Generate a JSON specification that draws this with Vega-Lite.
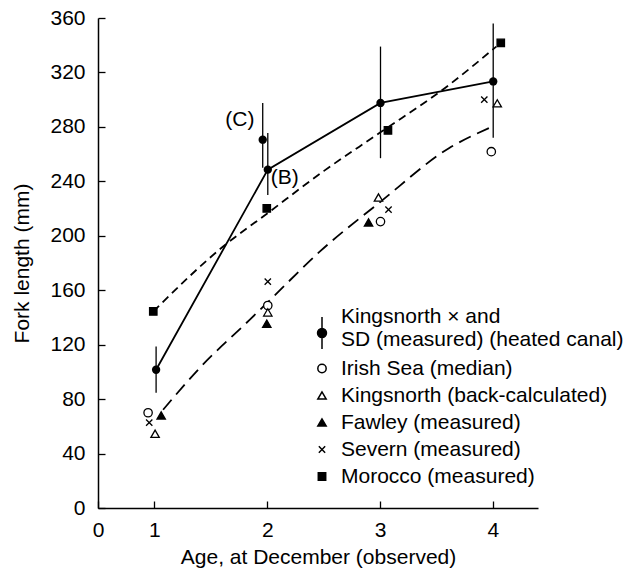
{
  "$schema": "https://vega.github.io/schema/vega-lite/v6.json",
  "width": 440,
  "height": 490,
  "autosize": {"type": "none"},
  "padding": {"left": 98, "top": 18, "right": 90, "bottom": 66},
  "background": "white",
  "config": {
    "font": "Liberation Sans",
    "view": {"stroke": null},
    "axis": {
      "grid": false,
      "domainColor": "black",
      "domainWidth": 1.5,
      "tickColor": "black",
      "tickWidth": 1.3,
      "tickSize": -7,
      "labelFont": "Liberation Sans",
      "labelFontSize": 21,
      "labelColor": "black",
      "titleFont": "Liberation Sans",
      "titleFontSize": 21,
      "titleFontWeight": "normal",
      "titleColor": "black",
      "labelFlush": false,
      "labelOverlap": false
    },
    "legend": {
      "labelFont": "Liberation Sans",
      "labelFontSize": 21,
      "labelColor": "black",
      "labelLimit": 500
    }
  },
  "datasets": {
    "pts": [
      {"series": "Irish Sea (median)", "age": 0.944, "length": 70.0},
      {"series": "Irish Sea (median)", "age": 2.005, "length": 148.8},
      {"series": "Irish Sea (median)", "age": 3.004, "length": 210.4},
      {"series": "Irish Sea (median)", "age": 3.986, "length": 261.8},
      {"series": "Kingsnorth (back-calculated)", "age": 1.006, "length": 54.6},
      {"series": "Kingsnorth (back-calculated)", "age": 2.005, "length": 143.7},
      {"series": "Kingsnorth (back-calculated)", "age": 2.986, "length": 228.1},
      {"series": "Kingsnorth (back-calculated)", "age": 4.039, "length": 297.3},
      {"series": "Fawley (measured)", "age": 1.06, "length": 68.0},
      {"series": "Fawley (measured)", "age": 1.996, "length": 135.4},
      {"series": "Fawley (measured)", "age": 2.898, "length": 209.8},
      {"series": "Severn (measured)", "age": 0.954, "length": 62.7},
      {"series": "Severn (measured)", "age": 2.005, "length": 166.3},
      {"series": "Severn (measured)", "age": 3.075, "length": 219.2},
      {"series": "Severn (measured)", "age": 3.924, "length": 300.0},
      {"series": "Morocco (measured)", "age": 0.99, "length": 144.4},
      {"series": "Morocco (measured)", "age": 1.996, "length": 220.1},
      {"series": "Morocco (measured)", "age": 3.07, "length": 277.4},
      {"series": "Morocco (measured)", "age": 4.07, "length": 341.7}
    ],
    "kings": [
      {"age": 1.015, "length": 101.6},
      {"age": 2.005, "length": 248.6},
      {"age": 3.004, "length": 297.6},
      {"age": 4.003, "length": 313.4},
      {"age": 1.96, "length": 270.6}
    ],
    "sd": [
      {"age": 1.015, "lo": 84.7, "hi": 118.7},
      {"age": 1.96, "lo": 250, "hi": 297.6},
      {"age": 2.005, "lo": 230, "hi": 275.5},
      {"age": 3.004, "lo": 257, "hi": 339},
      {"age": 4.003, "lo": 272, "hi": 356}
    ],
    "fits": [
      {"fit": "solid", "age": 1.015, "length": 101.6},
      {"fit": "solid", "age": 2.005, "length": 248.6},
      {"fit": "solid", "age": 3.004, "length": 297.6},
      {"fit": "solid", "age": 4.003, "length": 313.4},
      {"fit": "short", "age": 0.99, "length": 144.4},
      {"fit": "short", "age": 1.609, "length": 192.1},
      {"fit": "short", "age": 2.0, "length": 216.4},
      {"fit": "short", "age": 2.5, "length": 247.5},
      {"fit": "short", "age": 3.0, "length": 275.8},
      {"fit": "short", "age": 3.614, "length": 311},
      {"fit": "short", "age": 4.03, "length": 339},
      {"fit": "long", "age": 1.077, "length": 72.2},
      {"fit": "long", "age": 1.404, "length": 103.1},
      {"fit": "long", "age": 1.846, "length": 138.4},
      {"fit": "long", "age": 2.005, "length": 151.2},
      {"fit": "long", "age": 2.465, "length": 188.3},
      {"fit": "long", "age": 3.004, "length": 225},
      {"fit": "long", "age": 3.614, "length": 264.5},
      {"fit": "long", "age": 3.968, "length": 279.2}
    ],
    "notes": [
      {"label": "(C)", "age": 1.758, "length": 285.3},
      {"label": "(B)", "age": 2.156, "length": 242.5}
    ]
  },
  "encoding": {
    "x": {
      "field": "age",
      "type": "quantitative",
      "scale": {"domain": [0.5, 4.4], "zero": false, "nice": false},
      "axis": {
        "title": "Age, at December (observed)",
        "values": [0.5, 1, 2, 3, 4],
        "labelExpr": "datum.value == 0.5 ? '0' : datum.label",
        "labelPadding": 18,
        "titleY": 49,
        "titleBaseline": "middle"
      }
    },
    "y": {
      "field": "length",
      "type": "quantitative",
      "scale": {"domain": [0, 360], "zero": false, "nice": false},
      "axis": {
        "title": "Fork length (mm)",
        "values": [0, 40, 80, 120, 160, 200, 240, 280, 320, 360],
        "labelPadding": 20,
        "titleX": -76,
        "titleBaseline": "middle"
      }
    }
  },
  "layer": [
    {
      "data": {"name": "fits"},
      "transform": [{"filter": "datum.fit == 'solid'"}],
      "mark": {"type": "line", "color": "black", "strokeWidth": 1.8}
    },
    {
      "data": {"name": "fits"},
      "transform": [{"filter": "datum.fit != 'solid'"}],
      "mark": {"type": "line", "color": "black", "strokeWidth": 1.8, "interpolate": "monotone"},
      "encoding": {
        "strokeDash": {
          "field": "fit",
          "type": "nominal",
          "scale": {"domain": ["short", "long"], "range": [[8, 5], [13, 7]]},
          "legend": null
        }
      }
    },
    {
      "data": {"name": "sd"},
      "mark": {"type": "rule", "color": "black", "strokeWidth": 1.3},
      "encoding": {
        "y": {"field": "lo", "type": "quantitative"},
        "y2": {"field": "hi"}
      }
    },
    {
      "data": {"name": "pts"},
      "mark": {"type": "point", "filled": true, "stroke": "black", "strokeWidth": 1.3, "opacity": 1},
      "encoding": {
        "shape": {
          "field": "series",
          "type": "nominal",
          "scale": {
            "domain": ["Kingsnorth × and SD (measured) (heated canal)", "Irish Sea (median)", "Kingsnorth (back-calculated)", "Fawley (measured)", "Severn (measured)", "Morocco (measured)"],
            "range": ["M0,0V2M-0.28,1A0.28,0.28 0 1,0 0.28,1A0.28,0.28 0 1,0 -0.28,1Z", "circle", "triangle-up", "triangle-up", "M-1,-1L1,1M-1,1L1,-1", "square"]
          },
          "legend": {
            "title": null,
            "orient": "none",
            "legendX": 207,
            "legendY": 282,
            "padding": 0,
            "rowPadding": 5,
            "labelOffset": 2,
            "labelExpr": "datum.label == 'Kingsnorth × and SD (measured) (heated canal)' ? ['Kingsnorth × and', 'SD (measured) (heated canal)'] : datum.label",
            "encode": {
              "symbols": {
                "update": {
                  "stroke": {"value": "black"},
                  "strokeWidth": {"value": 1.3}
                }
              }
            }
          }
        },
        "fill": {
          "field": "series",
          "type": "nominal",
          "scale": {
            "domain": ["Kingsnorth × and SD (measured) (heated canal)", "Irish Sea (median)", "Kingsnorth (back-calculated)", "Fawley (measured)", "Severn (measured)", "Morocco (measured)"],
            "range": ["black", "white", "white", "black", "black", "black"]
          }
        },
        "size": {
          "field": "series",
          "type": "nominal",
          "scale": {
            "type": "ordinal",
            "domain": ["Kingsnorth × and SD (measured) (heated canal)", "Irish Sea (median)", "Kingsnorth (back-calculated)", "Fawley (measured)", "Severn (measured)", "Morocco (measured)"],
            "range": [1024, 70, 70, 70, 40, 55]
          }
        }
      }
    },
    {
      "data": {"name": "kings"},
      "mark": {"type": "point", "shape": "circle", "filled": true, "color": "black", "size": 70, "opacity": 1}
    },
    {
      "data": {"name": "notes"},
      "mark": {"type": "text", "fontSize": 21, "font": "Liberation Sans", "color": "black"},
      "encoding": {"text": {"field": "label"}}
    }
  ]
}
